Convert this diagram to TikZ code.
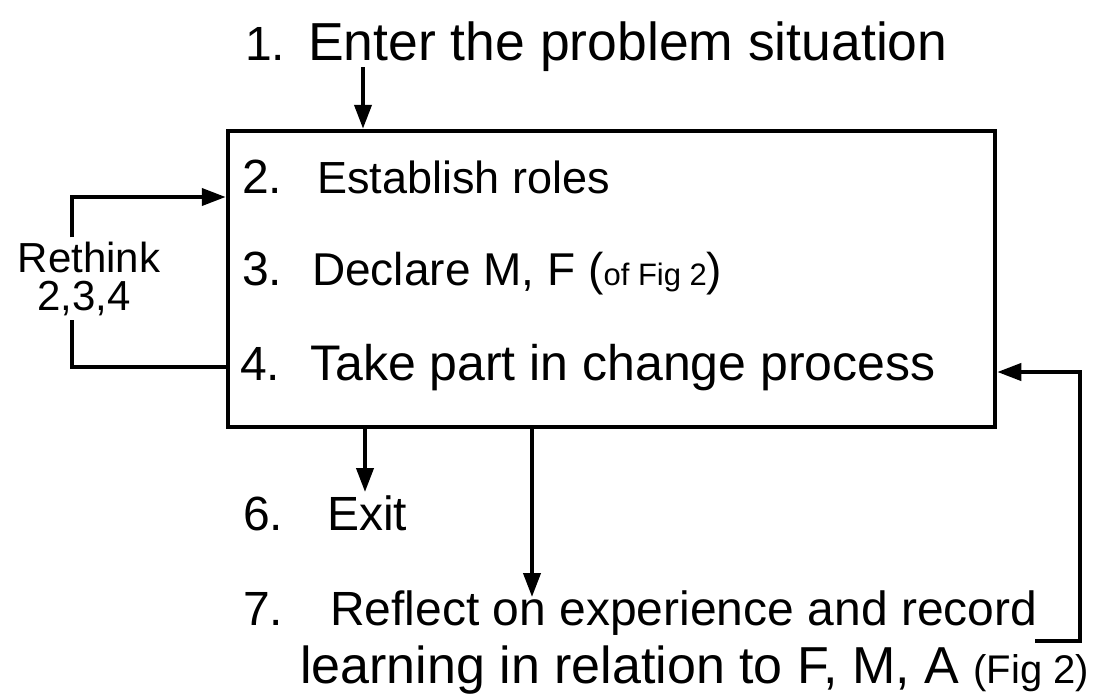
\documentclass[tikz,border=0pt]{standalone}
\usepackage{fontspec}
\setmainfont{Liberation Sans}
\usetikzlibrary{arrows.meta}
\newcommand{\fs}[1]{\fontsize{#1}{#1}\selectfont}
\begin{document}
\begin{tikzpicture}[x=1pt,y=-1pt,
  txt/.style={anchor=base west, inner sep=0pt},
  num/.style={anchor=base west, inner sep=0pt, font=\fs{48}},
  conn/.style={line width=4pt, line join=miter},
  arr/.style={conn, -{Triangle[length=24pt,width=17pt]}},
  boxst/.style={draw, line width=4.5pt, minimum width=767pt, minimum height=296pt, inner sep=0pt}]
\useasboundingbox (0,0) rectangle (1117,694);
% main box
\node[boxst] (box) at (611.5,279) {};
% text lines
\node[num] (n1) at (245,60) {1.};
\node[txt, font=\fs{53.5}] (t1) at (308,60) {Enter the problem situation};
\node[num] (n2) at (242,193) {2.};
\node[txt, font=\fs{45}] (t2) at (317,193) {Establish roles};
\node[num] (n3) at (242,285) {3.};
\node[txt, font=\fs{46}] (t3) at (312,285) {Declare M, F ({\fs{31}of Fig 2})};
\node[num] (n4) at (240,380) {4.};
\node[txt, font=\fs{50}] (t4) at (310,380) {Take part in change process};
\node[num] (n6) at (243,530) {6.};
\node[txt, font=\fs{48}] (t6) at (327,530) {Exit};
\node[num] (n7) at (243,625) {7.};
\node[txt, font=\fs{48}] (t7) at (330,625) {Reflect on experience and record};
\node[txt, font=\fs{52}] (t8) at (300,683) {learning in relation to F, M, A {\fs{40}(Fig 2)}};
% Rethink label
\node[anchor=base, inner sep=4pt, font=\fs{42}] (r1) at (89,272) {Rethink};
\node[anchor=base, inner sep=4pt, font=\fs{42}] (r2) at (84,310) {2,3,4};
% coordinates for connectors
\coordinate (c1) at (363,67);
\coordinate (la) at (72,197);
\coordinate (lb) at (72,367);
\coordinate (ex) at (365,492);
\coordinate (rf) at (532,597);
\coordinate (fb1) at (1035,641);
\coordinate (fb2) at (1080,641);
\coordinate (fb3) at (1080,372);
% connectors
\draw[arr] (c1) -- (c1 |- box.north);
\draw[arr] (la |- r1.north) -- (la) -- (box.west |- la);
\draw[conn] (box.west |- lb) -- (lb) -- (lb |- r2.south);
\draw[arr] (ex |- box.south) -- (ex);
\draw[arr] (rf |- box.south) -- (rf);
\draw[arr] (fb1) -- (fb2) -- (fb3) -- (box.east |- fb3);
\end{tikzpicture}
\end{document}
